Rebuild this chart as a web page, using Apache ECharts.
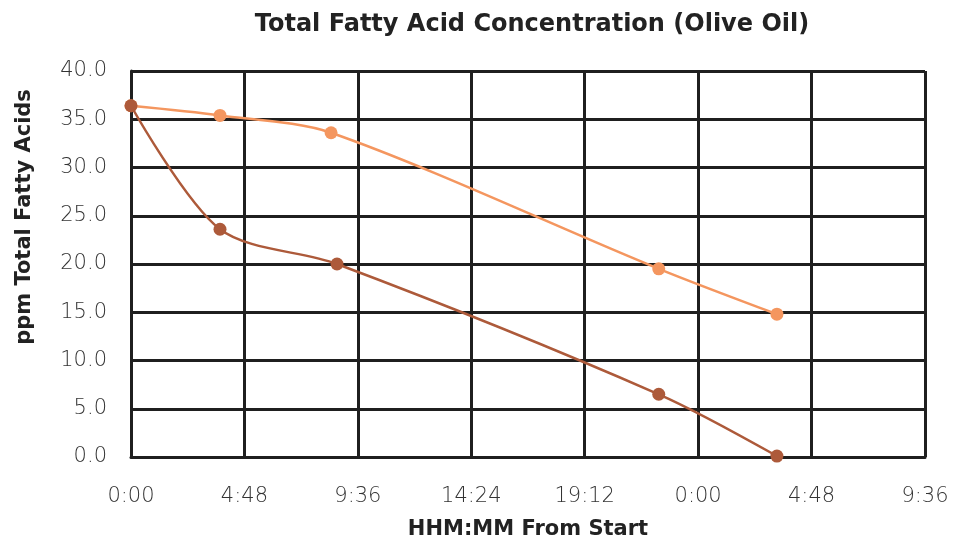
<!DOCTYPE html>
<html>
<head>
    <meta charset="utf-8">
    <title>Total Fatty Acid Concentration (Olive Oil)</title>
    <script src="https://cdn.jsdelivr.net/npm/echarts@6/dist/echarts.min.js"></script>
    <style type="text/css">
        html, body {
            margin: 0;
            padding: 0;
            background: #fff;
        }

        #main {
            width: 964px;
            height: 542px;
        }
    </style>
</head>
<body>
<div id="main"></div>
<script>
    // minutes from start
    var darkTimes = [0, 226, 523, 1340, 1640];
    var darkValues = [36.4, 23.6, 20.0, 6.5, 0.1];
    var lightTimes = [0, 226, 508, 1340, 1640];
    var lightValues = [36.4, 35.4, 33.6, 19.5, 14.8];

    function pairs(xs, ys) {
        var out = [];
        for (var i = 0; i < xs.length; i++) {
            out.push([xs[i], ys[i]]);
        }
        return out;
    }

    function fmtTime(v) {
        var m = Math.round(v) % 1440;
        var h = Math.floor(m / 60);
        var mm = m % 60;
        return h + ':' + (mm < 10 ? '0' + mm : mm);
    }

    var gridColor = '#1f1f1f';
    var font = 'DejaVu Sans';

    var myChart = echarts.init(document.getElementById('main'));
    var option = {
        animation: false,
        title: {
            text: 'Total Fatty Acid Concentration (Olive Oil)',
            left: 527,
            textAlign: 'center',
            top: 8,
            textStyle: {
                fontFamily: font,
                fontSize: 24,
                fontWeight: 'bold',
                color: '#222'
            }
        },
        grid: {
            left: 131,
            right: 39,
            top: 71,
            bottom: 85,
            outerBoundsMode: 'none'
        },
        xAxis: {
            type: 'value',
            min: 0,
            max: 2016,
            interval: 288,
            name: 'HHM:MM From Start',
            nameLocation: 'middle',
            nameGap: 62,
            nameTextStyle: {
                fontFamily: font,
                fontSize: 21,
                fontWeight: 'bold',
                color: '#222'
            },
            axisLine: {lineStyle: {color: gridColor, width: 3}},
            axisTick: {show: false},
            axisLabel: {
                formatter: fmtTime,
                margin: 29,
                fontFamily: font,
                fontSize: 21,
                fontWeight: 200,
                color: '#333'
            },
            splitLine: {show: true, lineStyle: {color: gridColor, width: 3}}
        },
        yAxis: {
            type: 'value',
            min: 0,
            max: 40,
            interval: 5,
            name: 'ppm Total Fatty Acids',
            nameLocation: 'middle',
            nameGap: 96,
            nameTextStyle: {
                fontFamily: font,
                fontSize: 21,
                fontWeight: 'bold',
                color: '#222',
                padding: [0, 0, 0, 94]
            },
            axisLine: {show: true, lineStyle: {color: gridColor, width: 3}},
            axisTick: {show: false},
            axisLabel: {
                formatter: function (v) { return v.toFixed(1); },
                margin: 24,
                fontFamily: font,
                fontSize: 21,
                fontWeight: 200,
                color: '#333'
            },
            splitLine: {show: true, lineStyle: {color: gridColor, width: 3}}
        },
        series: [{
            name: 'Light',
            type: 'line',
            smooth: 0.3,
            data: pairs(lightTimes, lightValues),
            symbol: 'circle',
            symbolSize: 13,
            lineStyle: {color: '#F4965F', width: 2.5},
            itemStyle: {color: '#F4965F'},
            z: 3
        }, {
            name: 'Dark',
            type: 'line',
            smooth: 0.3,
            data: pairs(darkTimes, darkValues),
            symbol: 'circle',
            symbolSize: 13,
            lineStyle: {color: '#AD5A3A', width: 2.5},
            itemStyle: {color: '#AD5A3A'},
            z: 4
        }]
    };
    myChart.setOption(option);
</script>
</body>
</html>
